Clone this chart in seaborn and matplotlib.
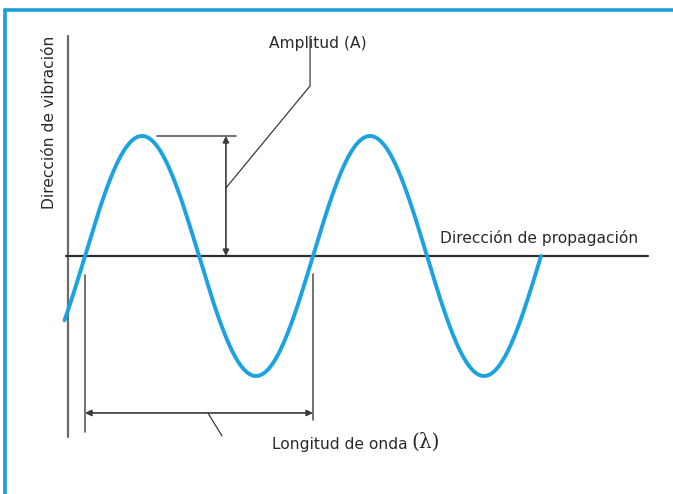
import numpy as np
import pandas as pd
import matplotlib.pyplot as plt
import seaborn as sns
from matplotlib.lines import Line2D

# wave (units: wavelength on x, amplitude on y)
wavelength = 1.0
amplitude = 1.0
x_start, x_end = -0.09, 2.0

x = np.linspace(x_start, x_end, 600)
wave = pd.DataFrame({"x": x, "y": amplitude * np.sin(2 * np.pi * x / wavelength)})

label_vib = "Dirección de vibración"
label_prop = "Dirección de propagación"
label_amp = "Amplitud (A)"
label_lambda = "Longitud de onda"

sns.set_style("white")
plt.rcParams["font.family"] = ["DejaVu Sans"]

fig = plt.figure(figsize=(6.73, 4.94), dpi=100)
ax = fig.add_axes([0, 0, 1, 1])
ax.set_xlim(-0.3728, 2.5789)
ax.set_ylim(-1.9833, 2.1333)
ax.axis("off")

line_c = "#5a5a5a"
txt_c = "#2a2a2a"
fs = 11.2

# axes of the diagram
ax.plot([-0.075, -0.075], [1.83, -1.51], color="#6a6a6a", lw=1.6)
ax.plot([-0.083, 2.47], [0, 0], color="#2e2e2e", lw=1.6)

sns.lineplot(data=wave, x="x", y="y", ax=ax, color="#1aa3e0", lw=2.8, sort=False)

# amplitude marker
ax.plot([0.316, 0.662], [amplitude, amplitude], color=line_c, lw=1.2)
ax.annotate("", xy=(0.618, amplitude), xytext=(0.618, 0),
            arrowprops=dict(arrowstyle="<|-|>", color="#3a3a3a", lw=1.2,
                            mutation_scale=9, shrinkA=0, shrinkB=0))
ax.plot([0.618, 0.987, 0.987], [0.567, 1.417, 1.83], color="#3a3a3a", lw=0.9)
ax.text(1.022, 1.767, label_amp, ha="center", va="center", fontsize=fs, color=txt_c)

# wavelength marker
ax.plot([0, 0], [-0.158, -1.467], color=line_c, lw=1.2)
ax.plot([wavelength, wavelength], [-0.15, -1.367], color=line_c, lw=1.2)
ax.annotate("", xy=(0, -1.308), xytext=(wavelength, -1.308),
            arrowprops=dict(arrowstyle="<|-|>", color="#3a3a3a", lw=1.2,
                            mutation_scale=9, shrinkA=0, shrinkB=0))
ax.plot([0.539, 0.601], [-1.308, -1.5], color="#3a3a3a", lw=0.9)
ax.text(0.82, -1.567, label_lambda, ha="left", va="center", fontsize=fs, color=txt_c)
ax.text(1.432, -1.555, "(λ)", ha="left", va="center", fontsize=14.5, color=txt_c,
        family=["DejaVu Serif"])

ax.text(1.557, 0.15, label_prop, ha="left", va="center", fontsize=fs, color=txt_c)
ax.text(-0.154, 1.117, label_vib, ha="center", va="center", rotation=90,
        fontsize=fs, color=txt_c)

# blue frame (top and left edges only visible)
fig.add_artist(Line2D([5 / 673, 1], [1 - 10 / 494, 1 - 10 / 494],
                      transform=fig.transFigure, color="#1a9fd8", lw=2.6))
fig.add_artist(Line2D([5 / 673, 5 / 673], [0, 1 - 10 / 494],
                      transform=fig.transFigure, color="#1a9fd8", lw=2.6))

fig.savefig("out.png", dpi=100)
